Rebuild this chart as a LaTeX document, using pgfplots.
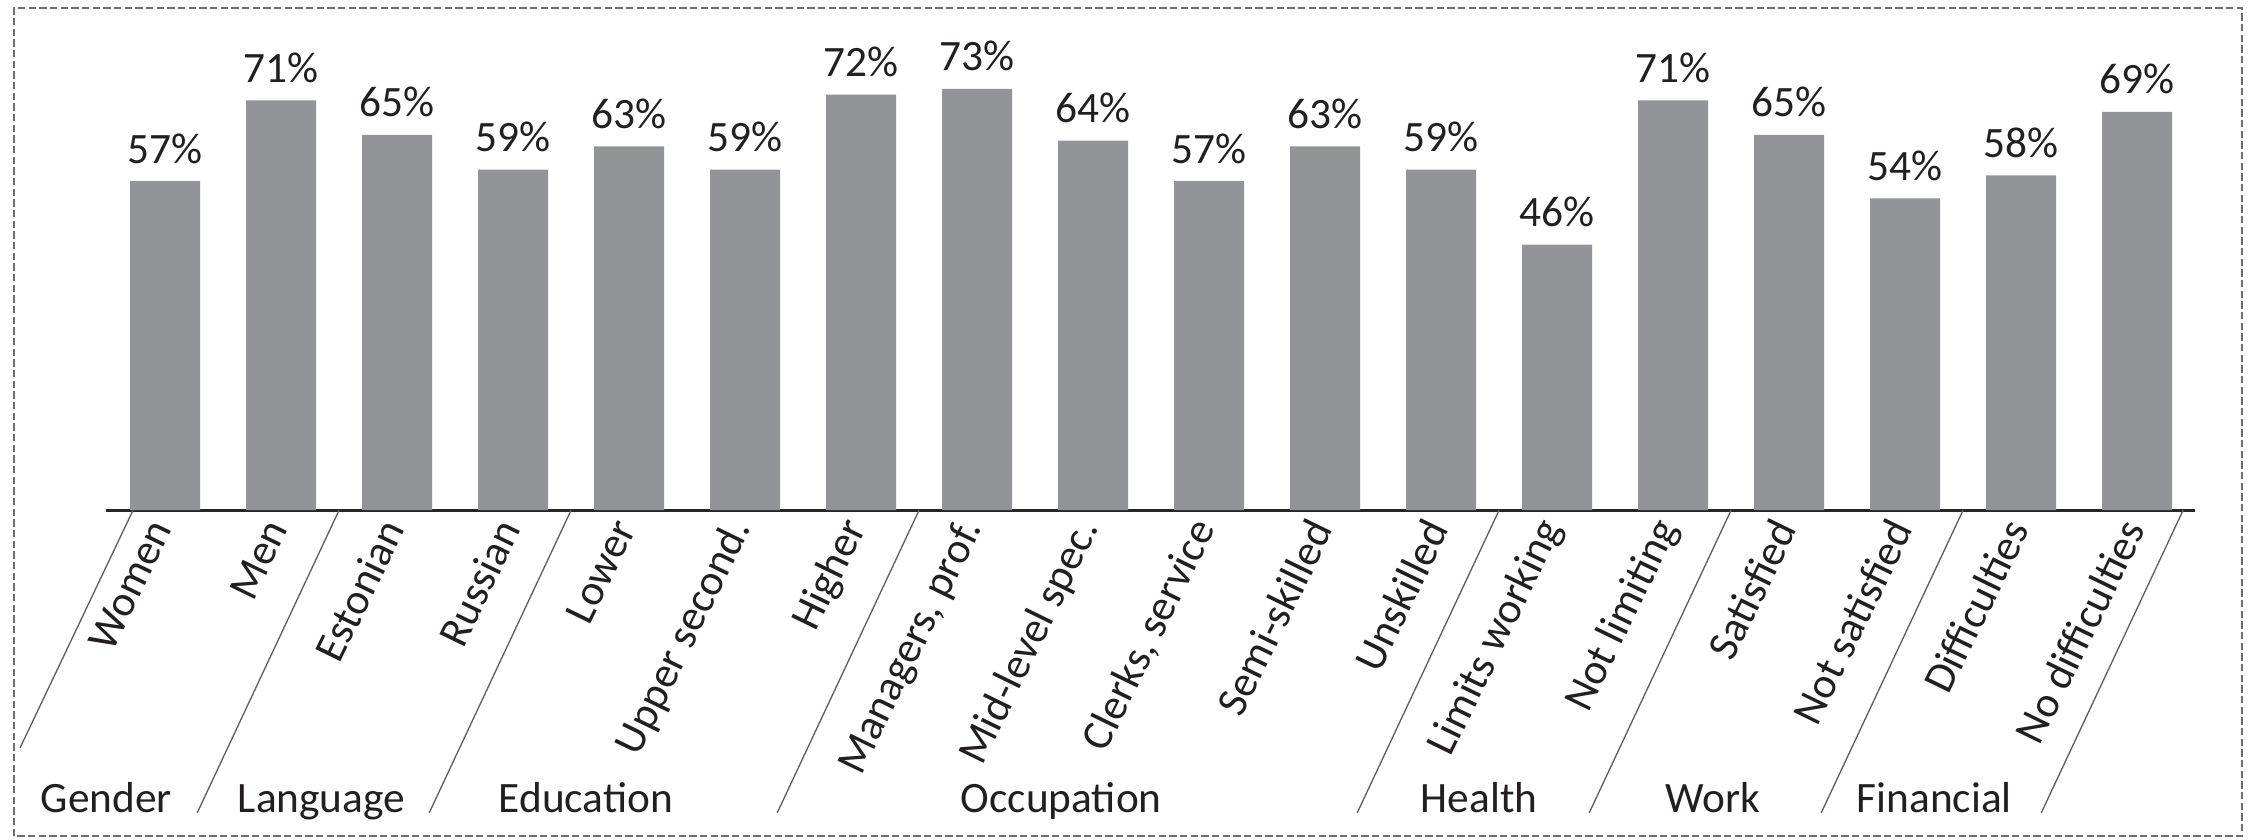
\documentclass[border=0pt]{standalone}
\usepackage{pgfplots}
\pgfplotsset{compat=1.18}
\usepackage{fontspec}
\setmainfont{Carlito}
\definecolor{barcolor}{RGB}{147,148,152}
\definecolor{txt}{RGB}{35,31,32}
\definecolor{sep}{RGB}{95,95,95}
\definecolor{frame}{RGB}{110,110,110}
\begin{document}
\begin{tikzpicture}
\useasboundingbox (-31.8pt,-98.7pt) rectangle (642.9pt,153pt);
\draw[frame, line width=0.7pt, dash pattern=on 2.2pt off 1pt] (-27.6pt,-97.8pt) rectangle (640.8pt,150.6pt);
\begin{axis}[
  at={(0,0)}, anchor=south west,
  x=34.8pt, y=1.731pt,
  xmin=-0.51, xmax=17.5, ymin=0, ymax=80,
  axis x line*=bottom, axis y line=none,
  axis line style={draw=black!85, line width=0.9pt},
  xtick={0,...,17},
  xticklabels={Women,Men,Estonian,Russian,Lower,Upper second.,Higher,{Managers, prof.},Mid-level spec.,{Clerks, service},Semi-skilled,Unskilled,Limits working,Not limiting,Satisfied,Not satisfied,Difficulties,No difficulties},
  major tick length=0pt,
  ytick=\empty,
  x tick label style={font=\fontsize{13}{15}\selectfont, text=txt, inner sep=0pt, xshift=-1.3pt, yshift=-3.7pt, rotate=64, anchor=east},
  clip=false,
  ybar, bar width=21pt,
  /pgf/number format/assume math mode=true,
  nodes near coords={\pgfmathprintnumber{\pgfplotspointmeta}\%},
  every node near coord/.append style={anchor=base, inner sep=0pt, yshift=5.4pt, font=\fontsize{13}{15}\selectfont, text=txt},
]
\addplot[fill=barcolor, draw=none] coordinates {
(0,57) (1,71) (2,65) (3,59) (4,63) (5,59) (6,72) (7,73) (8,64)
(9,57) (10,63) (11,59) (12,46) (13,71) (14,65) (15,54) (16,58) (17,69)};
% group separators
\draw[sep, line width=0.4pt] (axis cs:-0.276,0) -- (axis cs:-1.25,-41.2);
\draw[sep, line width=0.4pt] (axis cs:1.5,0) -- (axis cs:0.276,-52.5);
\draw[sep, line width=0.4pt] (axis cs:3.5,0) -- (axis cs:2.276,-52.5);
\draw[sep, line width=0.4pt] (axis cs:6.5,0) -- (axis cs:5.276,-52.5);
\draw[sep, line width=0.4pt] (axis cs:11.5,0) -- (axis cs:10.276,-52.5);
\draw[sep, line width=0.4pt] (axis cs:13.5,0) -- (axis cs:12.276,-52.5);
\draw[sep, line width=0.4pt] (axis cs:15.5,0) -- (axis cs:14.276,-52.5);
\draw[sep, line width=0.4pt] (axis cs:17.397,0) -- (axis cs:16.173,-52.5);
% group labels
\node[anchor=base west, inner sep=0pt, font=\fontsize{13}{15}\selectfont, text=txt] at (axis cs:-1.078,-52.5) {Gender};
\node[anchor=base west, inner sep=0pt, font=\fontsize{13}{15}\selectfont, text=txt] at (axis cs:0.621,-52.5) {Language};
\node[anchor=base west, inner sep=0pt, font=\fontsize{13}{15}\selectfont, text=txt] at (axis cs:2.871,-52.5) {Education};
\node[anchor=base west, inner sep=0pt, font=\fontsize{13}{15}\selectfont, text=txt] at (axis cs:6.853,-52.5) {Occupation};
\node[anchor=base west, inner sep=0pt, font=\fontsize{13}{15}\selectfont, text=txt] at (axis cs:10.819,-52.5) {Health};
\node[anchor=base west, inner sep=0pt, font=\fontsize{13}{15}\selectfont, text=txt] at (axis cs:12.931,-52.5) {Work};
\node[anchor=base west, inner sep=0pt, font=\fontsize{13}{15}\selectfont, text=txt] at (axis cs:14.578,-52.5) {Financial};
\end{axis}
\end{tikzpicture}
\end{document}
